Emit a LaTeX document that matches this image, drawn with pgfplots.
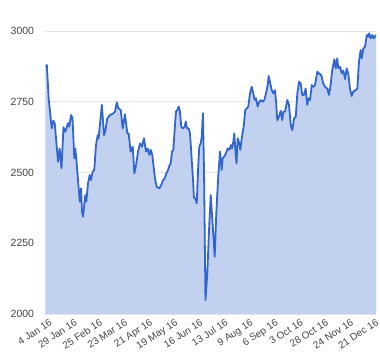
\documentclass[border=0pt]{standalone}
\usepackage{pgfplots}
\pgfplotsset{compat=1.18}
\usepackage{fontspec}
\setmainfont{Liberation Sans}
\definecolor{gline}{HTML}{3366CC}
\definecolor{gfill}{HTML}{C2D1F0}
\definecolor{ggrid}{HTML}{E6E6E6}
\definecolor{gtext}{HTML}{444444}
\pgfplotstableread{
x y
0 2874
1 2880
2.4 2762
4.7 2656
5.9 2683
7.0 2674
8.5 2591
9.5 2538
10.7 2585
12.1 2515
13.6 2660
15.0 2644
17.0 2674
18.0 2662
19.3 2703
20.4 2694
21.8 2550
22.5 2585
23.3 2550
25.9 2397
26.9 2444
27.6 2361
28.4 2344
29.3 2385
30.1 2420
30.9 2397
32.1 2460
33.4 2491
34.4 2473
35.7 2503
36.9 2509
38.2 2597
39.5 2632
40.2 2621
41.5 2685
42.6 2739
44.3 2632
45.2 2644
46.7 2691
48.8 2703
51.3 2709
52.6 2715
53.9 2748
55.1 2727
56.9 2721
58.4 2656
60.1 2706
61.9 2638
62.9 2638
64.4 2574
66.0 2591
67.2 2497
68.5 2526
70.0 2574
71.5 2603
73.0 2591
74.5 2621
76.0 2574
77.3 2585
78.5 2562
79.6 2580
80.8 2562
82.8 2479
84.1 2450
86.1 2444
87.6 2456
88.9 2473
90.2 2479
91.4 2497
92.7 2509
93.9 2526
94.7 2532
95.7 2574
96.7 2580
97.7 2650
98.7 2715
99.7 2721
100.8 2733
101.7 2715
102.7 2662
104.0 2656
105.3 2662
106.1 2680
107.0 2656
108.3 2656
109.3 2638
110.3 2568
111.6 2473
112.3 2409
113.3 2409
114.4 2391
115.4 2509
116.3 2591
117.4 2603
118.2 2627
119.1 2709
119.9 2509
121.0 2049
122.4 2144
123.7 2297
125.0 2420
126.2 2332
128.0 2203
129.2 2356
130.5 2473
132.0 2574
133.3 2509
134.0 2550
135.2 2556
136.5 2568
137.8 2585
139.0 2580
140.3 2597
141.1 2585
142.1 2609
142.8 2638
143.6 2580
144.5 2532
145.4 2621
146.6 2603
147.4 2580
148.6 2627
149.9 2662
151.1 2721
152.4 2727
153.4 2733
154.7 2780
156.0 2803
157.2 2780
158.2 2756
159.2 2762
160.5 2733
161.7 2750
163.0 2756
164.3 2750
165.5 2756
166.8 2780
168.1 2809
168.8 2841
170.0 2815
171.1 2791
172.3 2780
173.6 2791
174.4 2750
175.3 2685
176.6 2697
177.9 2718
179.1 2685
179.9 2715
181.2 2715
182.9 2756
184.2 2739
185.5 2668
186.7 2650
188.0 2691
189.3 2697
190.5 2780
191.8 2821
193.0 2815
194.2 2774
195.5 2774
196.8 2797
198.0 2739
198.8 2762
200.1 2756
201.4 2809
202.6 2803
203.9 2809
205.6 2856
206.9 2850
208.6 2844
210.1 2815
211.8 2800
213.2 2797
214.4 2774
215.7 2810
216.9 2862
218.5 2900
219.5 2868
220.7 2903
221.5 2868
222.8 2874
224.1 2850
225.3 2860
226.6 2830
227.8 2868
229.0 2850
230.3 2797
231.6 2770
232.8 2786
234.6 2791
235.9 2797
237.1 2891
238.4 2933
239.2 2903
240.4 2938
241.7 2944
243.0 2986
244.2 2980
244.9 2992
246.0 2974
247.2 2986
248.4 2974
250.0 2986
}\series
\begin{document}
\begin{tikzpicture}
\path[use as bounding box] (-45.5bp,-46bp) rectangle (334.5bp,314bp);
\begin{axis}[
  at={(0,0)}, anchor=south west,
  scale only axis, width=330.5bp, height=283bp,
  xmin=0, xmax=250, ymin=2000, ymax=3000,
  axis line style={draw=none},
  ymajorgrids, grid style={ggrid, line width=0.8bp},
  major tick length=0pt,
  ytick={2000,2250,2500,2750,3000},
  xtick={0,19,38,57,76,95,114,133,152,171,190,209,228,247},
  xticklabels={4 Jan 16,29 Jan 16,25 Feb 16,23 Mar 16,21 Apr 16,19 May 16,16 Jun 16,13 Jul 16,9 Aug 16,6 Sep 16,3 Oct 16,28 Oct 16,24 Nov 16,21 Dec 16},
  /pgf/number format/assume math mode=true,
  /pgf/number format/1000 sep={},
  yticklabel style={font=\fontsize{10.5}{12}\selectfont, text=gtext, anchor=east, xshift=-8bp},
  xticklabel style={font=\fontsize{10}{12}\selectfont, text=gtext, rotate=33, anchor=north east, inner sep=0.5bp, xshift=1bp, yshift=-5bp},
]
\addplot[draw=none, fill=gfill] table {\series} \closedcycle;
\addplot[gline, line width=1.8bp, line join=round, mark=none] table {\series};
\end{axis}
\end{tikzpicture}
\end{document}
